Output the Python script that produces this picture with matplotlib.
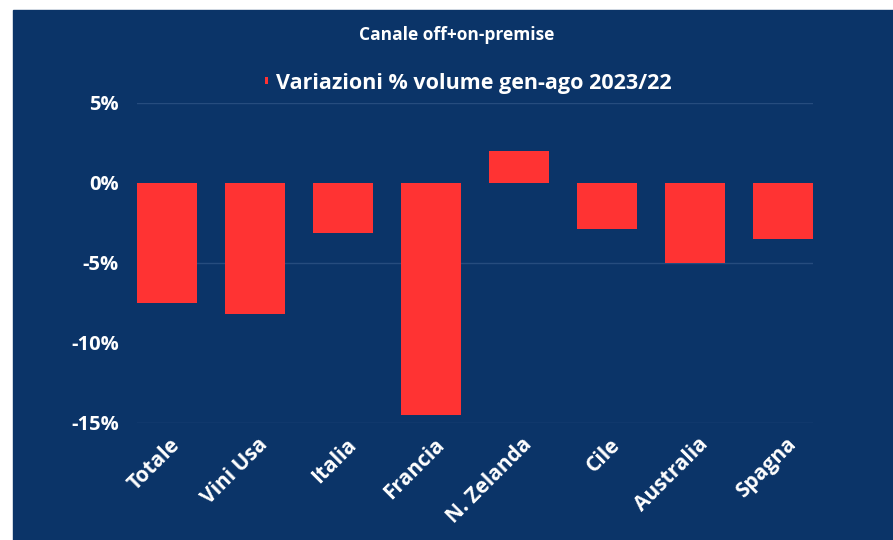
import matplotlib.pyplot as plt
import matplotlib.patches as mpatches
import matplotlib.transforms as mtransforms

plt.rcParams['font.family'] = ['Open Sans', 'DejaVu Sans']

# data
paesi = ['Totale', 'Vini Usa', 'Italia', 'Francia', 'N. Zelanda', 'Cile', 'Australia', 'Spagna']
variazioni = [-7.5, -8.2, -3.1, -14.5, 2.0, -2.9, -5.0, -3.5]
yticks = [5, 0, -5, -10, -15]

bg = '#0b3468'
rosso = '#ff3333'

fig = plt.figure(figsize=(8.93, 5.40), dpi=100, facecolor='white')
# dark panel (white strip on top and left edge)
fig.add_artist(mpatches.Rectangle((13 / 893, 0), 1, 530 / 540,
                                  transform=fig.transFigure, color=bg, zorder=-10))

ax = fig.add_axes([137 / 893, 1 - 423 / 540, 676 / 893, 320 / 540])
ax.set_facecolor('none')

x = range(len(paesi))
ax.bar(x, variazioni, width=0.68, color=rosso, zorder=3,
       label='Variazioni % volume gen-ago 2023/22')

ax.set_xlim(-0.34, len(paesi) - 1 + 0.34)
ax.set_ylim(-15, 5)
for g in [5, -5, -15]:
    ax.axhline(g, color='#264c7e', linewidth=1, zorder=1)

ax.set_yticks(yticks)
ax.set_yticklabels([f'{v}%' for v in yticks])
ax.set_xticks(list(x))
ax.set_xticklabels(paesi, rotation=45, ha='right', rotation_mode='anchor')
ax.tick_params(axis='y', length=0, pad=13, labelsize=14.5, labelcolor='white')
ax.tick_params(axis='x', length=0, pad=8, labelsize=15, labelcolor='white')
shift = mtransforms.ScaledTranslation(2 / 72, 0, fig.dpi_scale_trans)
for lab in ax.get_xticklabels():
    lab.set_transform(lab.get_transform() + shift)
for lab in ax.get_xticklabels() + ax.get_yticklabels():
    lab.set_fontweight('bold')
for s in ax.spines.values():
    s.set_visible(False)

leg = ax.legend(loc='center', bbox_to_anchor=(0.49, 1.0625), frameon=False,
                handlelength=0.15, handleheight=0.15, handletextpad=0.35,
                prop={'weight': 'bold', 'size': 15.5})
for t in leg.get_texts():
    t.set_color('white')

fig.text(457 / 893, 1 - 35 / 540, 'Canale off+on-premise', color='white',
         fontsize=12.5, fontweight='bold', ha='center', va='center')

fig.savefig('out.png', dpi=100, facecolor='white')
